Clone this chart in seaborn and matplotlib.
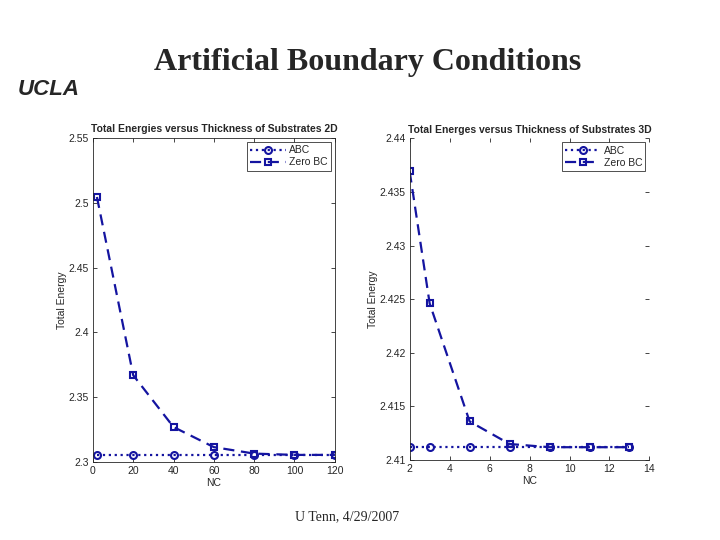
import pandas as pd
import seaborn as sns
import matplotlib.pyplot as plt

# Datos 2D
nc_2d = [2, 20, 40, 60, 80, 100, 120]
abc_2d = [2.3054, 2.3054, 2.3054, 2.3054, 2.3054, 2.3054, 2.3054]
zero_2d = [2.5045, 2.367, 2.327, 2.3115, 2.3065, 2.3055, 2.3055]

# Datos 3D
nc_3d = [2, 3, 5, 7, 9, 11, 13]
abc_3d = [2.4112, 2.4112, 2.4112, 2.4112, 2.4112, 2.4112, 2.4112]
zero_3d = [2.4369, 2.4246, 2.4136, 2.4115, 2.4112, 2.4112, 2.4112]

sns.set_style("ticks")
plt.rcParams["font.family"] = ["Liberation Sans", "DejaVu Sans"]

blue = "#1414a0"
fig = plt.figure(figsize=(7.2, 5.4), dpi=100)

fig.text(0.51, 0.885, "Artificial Boundary Conditions", ha="center", va="center",
         fontsize=23, fontweight="bold", family="Liberation Serif")
fig.text(0.482, 0.044, "U Tenn, 4/29/2007", ha="center", va="center",
         fontsize=10, family="Liberation Serif")
fig.text(0.068, 0.835, "UCLA", ha="center", va="center", fontsize=16,
         fontweight="bold", style="italic")


def panel(rect, x, abc, zero, title, xlim, ylim, yticks, ytick_labels, xticks, xtick_labels, box=True):
    ax = fig.add_axes(rect)
    df = pd.DataFrame({"NC": x, "ABC": abc, "Zero BC": zero})
    sns.lineplot(data=df, x="NC", y="ABC", ax=ax, color=blue, linestyle=":", marker="o",
                 markersize=5, markerfacecolor="none", markeredgecolor=blue,
                 markeredgewidth=1.5, linewidth=1.6, label="ABC")
    sns.lineplot(data=df, x="NC", y="Zero BC", ax=ax, color=blue, marker="s",
                 markersize=5, markerfacecolor="none", markeredgecolor=blue,
                 markeredgewidth=1.5, linewidth=1.6, label="Zero BC")
    ax.lines[-1].set_dashes((5, 3))
    ax.set_xlim(*xlim)
    ax.set_ylim(*ylim)
    ax.set_yticks(yticks)
    ax.set_yticklabels(ytick_labels)
    ax.set_xticks(xticks)
    ax.set_xticklabels(xtick_labels)
    ax.tick_params(direction="in", labelsize=7.5, length=3, width=0.6,
                   top=True, right=True, pad=3)
    ax.set_title(title, fontsize=7.5, fontweight="bold", pad=4)
    ax.set_xlabel("NC", fontsize=7.5, labelpad=1)
    ax.set_ylabel("Total Energy", fontsize=7.5, labelpad=1)
    for s in ax.spines.values():
        s.set_linewidth(0.6)
    if not box:
        ax.spines["top"].set_visible(False)
        ax.spines["right"].set_visible(False)
    leg = ax.legend(loc="upper right", fontsize=7.5, frameon=True, fancybox=False,
                    edgecolor="black", handlelength=3.4, borderpad=0.3,
                    labelspacing=0.2, handletextpad=0.3, borderaxespad=0.4)
    leg.get_frame().set_linewidth(0.6)
    for h in leg.get_lines()[1:]:
        h.set_dashes((5, 3))
    return ax


panel([0.129, 0.1444, 0.336, 0.6], nc_2d, abc_2d, zero_2d,
      "Total Energies versus Thickness of Substrates 2D",
      (0, 120), (2.3, 2.55),
      [2.3, 2.35, 2.4, 2.45, 2.5, 2.55], ["2.3", "2.35", "2.4", "2.45", "2.5", "2.55"],
      [0, 20, 40, 60, 80, 100, 120], ["0", "20", "40", "60", "80", "100", "120"])

panel([0.569, 0.148, 0.333, 0.596], nc_3d, abc_3d, zero_3d,
      "Total Energes versus Thickness of Substrates 3D",
      (2, 14), (2.41, 2.44),
      [2.41, 2.415, 2.42, 2.425, 2.43, 2.435, 2.44],
      ["2.41", "2.415", "2.42", "2.425", "2.43", "2.435", "2.44"],
      [2, 4, 6, 8, 10, 12, 14], ["2", "4", "6", "8", "10", "12", "14"], box=False)

plt.savefig("out.png", dpi=100)
